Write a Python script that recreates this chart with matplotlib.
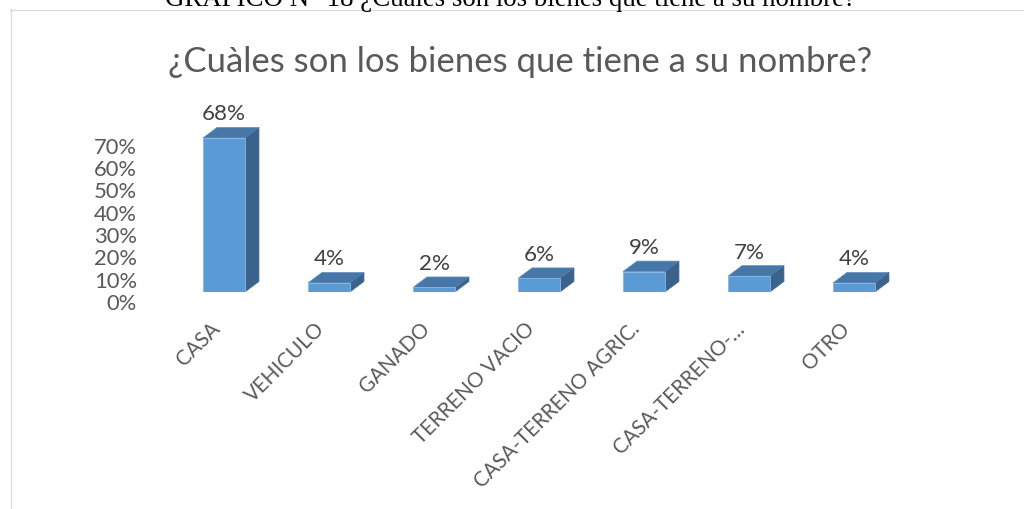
import matplotlib
matplotlib.use("Agg")
import matplotlib.pyplot as plt
from matplotlib.patches import Polygon
from matplotlib.lines import Line2D
from matplotlib.transforms import ScaledTranslation
import numpy as np

categories = ["CASA", "VEHICULO", "GANADO", "TERRENO VACIO",
              "CASA-TERRENO AGRIC.", "CASA-TERRENO-…", "OTRO"]
values = [68, 4, 2, 6, 9, 7, 4]
y_ticks = [0, 10, 20, 30, 40, 50, 60, 70]
title = "¿Cuàles son los bienes que tiene a su nombre?"
doc_caption = "GRÁFICO N° 18 ¿Cuáles son los bienes que tiene a su nombre?"

W, H = 1024, 510
DPI = 100
fig = plt.figure(figsize=(W / DPI, H / DPI), dpi=DPI)
fig.patch.set_facecolor("white")
SANS = ["Lato", "DejaVu Sans"]

def fx(px):
    return px / W

def fy(py):
    return 1 - py / H

renderer = fig.canvas.get_renderer()

def fit_width(txt, target_px):
    w = txt.get_window_extent(renderer).width
    txt.set_fontsize(txt.get_fontsize() * target_px / w)

def measure_size(s, target_px, family):
    t = fig.text(0, 0, s, fontsize=10, family=family)
    w = t.get_window_extent(renderer).width
    t.remove()
    return 10 * target_px / w

# chart border (box continues beyond the picture)
fig.add_artist(Line2D([fx(10), 1.0], [fy(10.5), fy(10.5)], color="#D9D9D9", lw=0.9))
fig.add_artist(Line2D([fx(10.5), fx(10.5)], [fy(10), 0.0], color="#D9D9D9", lw=0.9))

# document caption (cut off at top, as in the source)
cap = fig.text(fx(165), fy(6), doc_caption, family=["Liberation Serif", "DejaVu Serif"],
               fontsize=16, ha="left", va="baseline", color="black")
fit_width(cap, 693)

# chart title
t = fig.text(fx(520), fy(62), title, family=SANS, fontsize=24, ha="center", va="center",
             color="#595959")
fit_width(t, 704)

# geometry
left_px, right_px = 171.5, 906.5
scale_bar = 226.5     # px per unit (fraction) for bars
scale_axis = 223.0    # px per unit for back-wall axis
ymax = 0.75
vals = np.array(values) / 100.0

# y axis labels (back wall)
ay = fig.add_axes([fx(left_px), fy(302), (right_px - left_px) / W, ymax * scale_axis / H])
ay.set_ylim(0, ymax)
ay.set_xlim(-0.5, 6.5)
ay.patch.set_visible(False)
for s in ay.spines.values():
    s.set_visible(False)
ay.set_xticks([])
ay.set_yticks([v / 100 for v in y_ticks])
ay.set_yticklabels([f"{v}%" for v in y_ticks])
ytsize = measure_size("70%", 43, SANS)
ay.tick_params(axis="y", length=0, pad=34.5 * 72 / DPI, labelsize=ytsize, labelcolor="#595959")
for lab in ay.get_yticklabels():
    lab.set_family(SANS)

# main bars axes
ax = fig.add_axes([fx(left_px), fy(293), (right_px - left_px) / W, ymax * scale_bar / H])
ax.set_xlim(-0.5, 6.5)
ax.set_ylim(0, ymax)
ax.patch.set_visible(False)
for s in ax.spines.values():
    s.set_visible(False)
ax.set_yticks([])

xs = np.arange(len(categories))
bw = 0.4
front = "#5B9BD5"
top_c = "#4677A6"
side_c = "#3A628B"
ax.bar(xs, vals, width=bw, color=front, edgecolor="#8AB6E0", linewidth=0.6, zorder=3)

dx_px, dy_px = 14.0, 10.5
inv = ax.transData.inverted()

def back(p):
    d = ax.transData.transform(p)
    return inv.transform(d + np.array([dx_px, dy_px]))

for x, v in zip(xs, vals):
    FL = (x - bw / 2, v)
    FR = (x + bw / 2, v)
    BR = (x + bw / 2, 0)
    top_poly = [FL, FR, tuple(back(FR)), tuple(back(FL))]
    side_poly = [BR, FR, tuple(back(FR)), tuple(back(BR))]
    ax.add_patch(Polygon(top_poly, closed=True, facecolor=top_c, edgecolor="#5F8FC0",
                         lw=0.5, zorder=2, clip_on=False))
    ax.add_patch(Polygon(side_poly, closed=True, facecolor=side_c, edgecolor="#4C78A6",
                         lw=0.5, zorder=2, clip_on=False))

dlsize = measure_size("68%", 44, SANS)
for x, v, lab in zip(xs, vals, values):
    ax.annotate(f"{lab}%", (x, v), xytext=(0, 24.5 * 72 / DPI), textcoords="offset points",
                ha="center", va="center", fontsize=dlsize, color="#404040", family=SANS,
                annotation_clip=False)

xtsize = measure_size("CASA-TERRENO AGRIC.", 224, SANS)
ax.set_xticks(xs)
ax.set_xticklabels(categories)
ax.tick_params(axis="x", length=0, pad=33 * 72 / DPI, labelsize=xtsize, labelcolor="#595959")
shift = ScaledTranslation(-7 / DPI, 0, fig.dpi_scale_trans)
for lab in ax.get_xticklabels():
    lab.set_family(SANS)
    lab.set_rotation(45)
    lab.set_ha("right")
    lab.set_va("center")
    lab.set_rotation_mode("anchor")
    lab.set_transform(lab.get_transform() + shift)

fig.savefig("out.png", dpi=DPI, facecolor="white")
